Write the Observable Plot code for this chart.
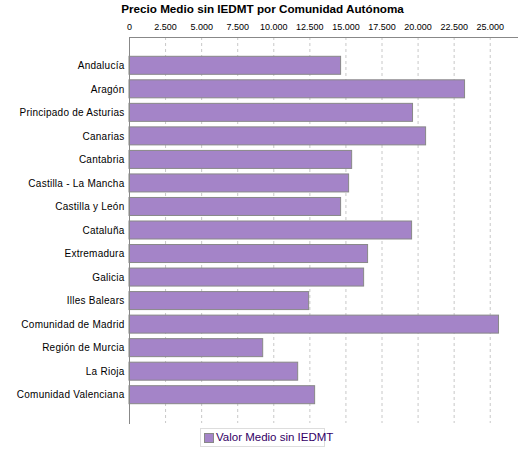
<!DOCTYPE html>
<html>
<head>
<meta charset="utf-8">
<script src="https://cdn.jsdelivr.net/npm/d3@7"></script>
<script src="https://cdn.jsdelivr.net/npm/@observablehq/plot@0.6"></script>
<style>
  body { margin: 0; background: #fff; font-family: "Liberation Sans", Arial, sans-serif; }
  #titulo { width: 525px; height: 18px; text-align: center; font-weight: bold; font-size: 11.7px; line-height: 16px; padding-top: 1px; box-sizing: border-box; }
  #leyenda { position: absolute; left: 200px; top: 428px; width: 125px; height: 19px; border: 1px solid #ddd; box-sizing: border-box; font-size: 11.5px; color: #330066; }
  #leyenda span.caja { position: absolute; left: 3px; top: 4px; width: 8px; height: 8px; background: #a484c8; border: 1px solid #888; }
  #leyenda span.txt { position: absolute; left: 15px; top: 2px; white-space: nowrap; }
  #graf g[aria-label="y-axis tick label"] text { letter-spacing: 0.25px; }
</style>
</head>
<body>
<div id="titulo">Precio Medio sin IEDMT por Comunidad Autónoma</div>
<div id="graf"></div>
<div id="leyenda"><span class="caja"></span><span class="txt">Valor Medio sin IEDMT</span></div>
<script>
const comunidades = ["Andalucía", "Aragón", "Principado de Asturias", "Canarias", "Cantabria",
  "Castilla - La Mancha", "Castilla y León", "Cataluña", "Extremadura", "Galicia",
  "Illes Balears", "Comunidad de Madrid", "Región de Murcia", "La Rioja", "Comunidad Valenciana"];
const valores = [14665, 23255, 19650, 20555, 15430, 15220, 14665, 19585, 16535, 16260,
  12450, 25610, 9265, 11690, 12865];
const ticksX = [0, 2500, 5000, 7500, 10000, 12500, 15000, 17500, 20000, 22500, 25000];

const es = d3.formatLocale({decimal: ",", thousands: ".", grouping: [3], currency: ["", " €"]});
const fmt = es.format(",");

const filas = comunidades.map((c, i) => ({comunidad: c, valor: valores[i]}));

const chart = Plot.plot({
  width: 525,
  height: 407,
  marginTop: 19,
  marginBottom: 2,
  marginLeft: 129,
  marginRight: 8,
  style: {fontFamily: "'Liberation Sans', Arial, sans-serif", background: "#fff"},
  x: {domain: [0, 26890], axis: null},
  y: {domain: comunidades, paddingInner: 0.235, paddingOuter: 0.82, round: false, axis: null},
  marks: [
    Plot.gridX(ticksX, {stroke: "#c8c8c8", strokeOpacity: 1, strokeDasharray: "3,3"}),
    Plot.axisX(ticksX, {anchor: "top", tickSize: 0, tickPadding: 8, tickFormat: fmt, fontSize: 9, fill: "#000", label: null}),
    Plot.axisY({anchor: "left", tickSize: 0, tickPadding: 5, fontSize: 10, fill: "#000", label: null}),
    Plot.barX(filas, {y: "comunidad", x: "valor", fill: "#a484c8", stroke: "#888", strokeWidth: 1}),
    Plot.frame({anchor: "top", stroke: "#888"}),
    Plot.frame({anchor: "left", stroke: "#888"})
  ]
});

document.getElementById("graf").appendChild(chart);
</script>
</body>
</html>
